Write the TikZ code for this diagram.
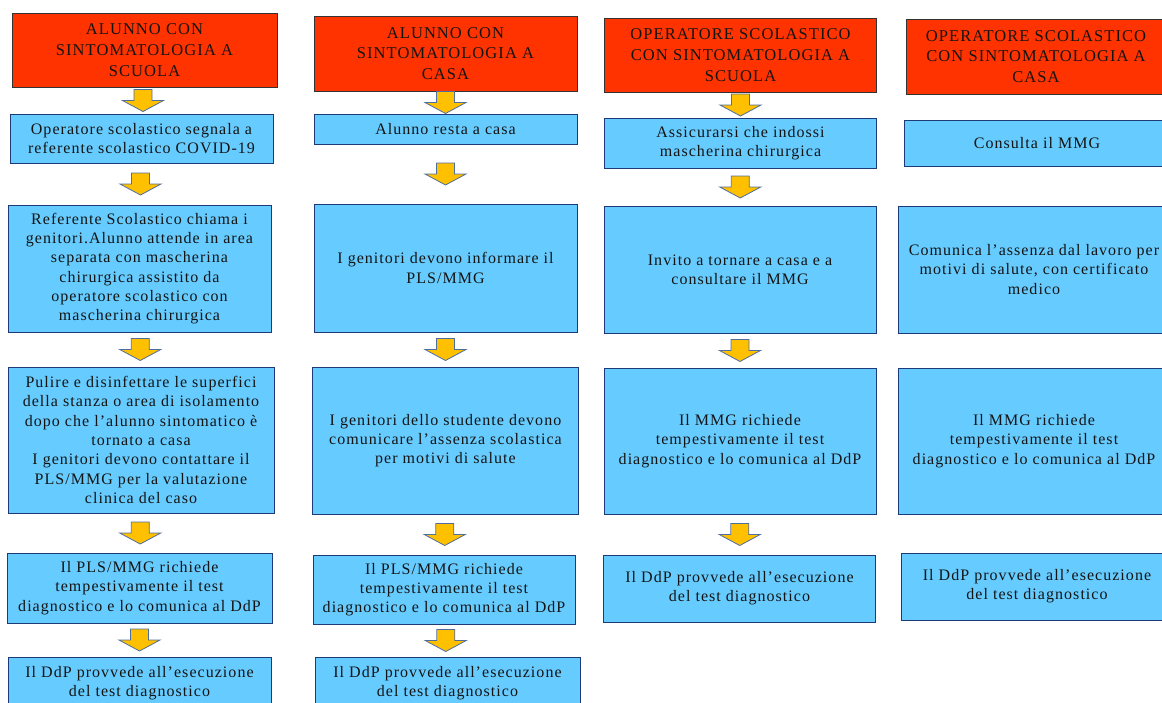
\documentclass[tikz,border=0pt]{standalone}
\usepackage{fontspec}
\setmainfont{Liberation Serif}[LetterSpace=6.5]
\usepackage{xcolor}
\usetikzlibrary{calc}

\definecolor{headred}{HTML}{FF3300}
\definecolor{boxblue}{HTML}{66CCFF}
\definecolor{boxedge}{HTML}{1F3A78}
\definecolor{arrowgold}{HTML}{FFC000}
\definecolor{arrowedge}{HTML}{4F6E9E}
\definecolor{inktext}{HTML}{141414}

\newcommand{\headfont}{\fontsize{16.5}{20.8}\selectfont}
\newcommand{\bodyfont}{\fontsize{16}{19.3}\selectfont}

\tikzset{
    header/.style={draw=black!80, fill=headred, line width=0.8pt, align=center,
        text=inktext, font=\headfont, minimum height=74},
    stepbox/.style={draw=boxedge, fill=boxblue, line width=0.8pt, align=center,
        text=inktext, font=\bodyfont},
    flowarrow/.pic={
        \draw[draw=arrowedge, fill=arrowgold, line width=0.8pt, line join=miter]
            (-9,-11) -- (9,-11) -- (9,0) -- (20.5,0) -- (0,11) -- (-20.5,0) -- (-9,0) -- cycle;
    }
}

\begin{document}
\begin{tikzpicture}[x=1pt, y=-1pt]
            \useasboundingbox (0,0) rectangle (1162,702);
            \clip (0,0) rectangle (1162,702);

            %% alunno a scuola
            \node[header,  minimum width=265] (h1) at (144.5,50) {ALUNNO CON\\SINTOMATOLOGIA A\\SCUOLA};
            \node[stepbox, minimum width=263, minimum height=49]  (s11) at (141.5,138.5) {Operatore scolastico segnala a\\referente scolastico COVID-19};
            \node[stepbox, minimum width=263, minimum height=127] (s12) at (139.5,268.5) {Referente Scolastico chiama i\\genitori.Alunno attende in area\\separata con mascherina\\chirurgica assistito da\\operatore scolastico con\\mascherina chirurgica};
            \node[stepbox, minimum width=266, minimum height=146] (s13) at (141,440) {Pulire e disinfettare le superfici\\della stanza o area di isolamento\\dopo che l’alunno sintomatico è\\tornato a casa\\I genitori devono contattare il\\PLS/MMG per la valutazione\\clinica del caso};
            \node[stepbox, minimum width=265, minimum height=70]  (s14) at (139.5,588) {Il PLS/MMG richiede\\tempestivamente il test\\diagnostico e lo comunica al DdP};
            \node[stepbox, minimum width=263, minimum height=52]  (s15) at (139.5,683) {Il DdP provvede all’esecuzione\\del test diagnostico};

            %% alunno a casa
            \node[header,  minimum width=263, minimum height=75] (h2) at (445.5,53.5) {ALUNNO CON\\SINTOMATOLOGIA A\\CASA};
            \node[stepbox, minimum width=263, minimum height=30]  (s21) at (445.5,129) {Alunno resta a casa};
            \node[stepbox, minimum width=263, minimum height=128] (s22) at (445.5,268) {I genitori devono informare il\\PLS/MMG};
            \node[stepbox, minimum width=266, minimum height=147] (s23) at (445.5,440.5) {I genitori dello studente devono\\comunicare l’assenza scolastica\\per motivi di salute};
            \node[stepbox, minimum width=262, minimum height=69]  (s24) at (444,589.5) {Il PLS/MMG richiede\\tempestivamente il test\\diagnostico e lo comunica al DdP};
            \node[stepbox, minimum width=265, minimum height=52]  (s25) at (447.5,683) {Il DdP provvede all’esecuzione\\del test diagnostico};

            %% operatore a scuola
            \node[header,  minimum width=272] (h3) at (740.5,55) {OPERATORE SCOLASTICO\\CON SINTOMATOLOGIA A\\SCUOLA};
            \node[stepbox, minimum width=272, minimum height=50]  (s31) at (740.5,143) {Assicurarsi che indossi\\mascherina chirurgica};
            \node[stepbox, minimum width=272, minimum height=127] (s32) at (740,269.5) {Invito a tornare a casa e a\\consultare il MMG};
            \node[stepbox, minimum width=272, minimum height=146] (s33) at (740,441) {Il MMG richiede\\tempestivamente il test\\diagnostico e lo comunica al DdP};
            \node[stepbox, minimum width=272, minimum height=67]  (s34) at (739.5,588.5) {Il DdP provvede all’esecuzione\\del test diagnostico};

            %% operatore a casa
            \node[header,  minimum width=260, minimum height=75] (h4) at (1036,56.5) {OPERATORE SCOLASTICO\\CON SINTOMATOLOGIA A\\CASA};
            \node[stepbox, minimum width=266, minimum height=46]  (s41) at (1037,143) {Consulta il MMG};
            \node[stepbox, minimum width=272, minimum height=127] (s42) at (1034,269.5) {Comunica l’assenza dal lavoro per\\motivi di salute, con certificato\\medico};
            \node[stepbox, minimum width=272, minimum height=146] (s43) at (1034,441) {Il MMG richiede\\tempestivamente il test\\diagnostico e lo comunica al DdP};
            \node[stepbox, minimum width=272, minimum height=67]  (s44) at (1037,586.5) {Il DdP provvede all’esecuzione\\del test diagnostico};

            % arrows
            \pic at ($(h1.south)!.5!(s11.north)$) {flowarrow};
            \pic at ($(s11.south)!.5!(s12.north)$) {flowarrow};
            \pic at ($(s12.south)!.5!(s13.north)$) {flowarrow};
            \pic at ($(s13.south)!.5!(s14.north)$) {flowarrow};
            \pic at ($(s14.south)!.5!(s15.north)$) {flowarrow};

            \pic at ($(h2.south)!.5!(s21.north)$) {flowarrow};
            \pic at ($(s21.south)!.5!(s22.north)$) {flowarrow};
            \pic at ($(s22.south)!.5!(s23.north)$) {flowarrow};
            \pic at ($(s23.south)!.5!(s24.north)$) {flowarrow};
            \pic at ($(s24.south)!.5!(s25.north)$) {flowarrow};

            \pic at ($(h3.south)!.5!(s31.north)$) {flowarrow};
            \pic at ($(s31.south)!.5!(s32.north)$) {flowarrow};
            \pic at ($(s32.south)!.5!(s33.north)$) {flowarrow};
            \pic at ($(s33.south)!.5!(s34.north)$) {flowarrow};

\end{tikzpicture}
\end{document}
